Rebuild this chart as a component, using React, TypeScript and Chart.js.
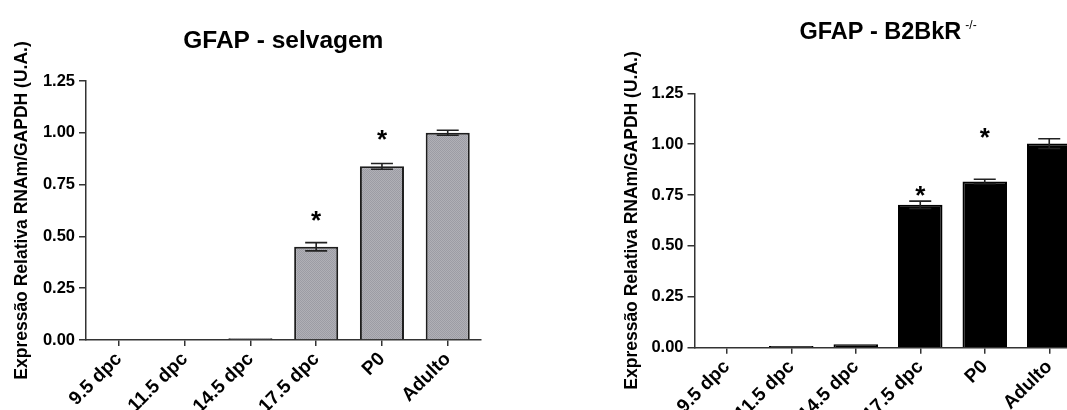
import React, { useEffect, useRef } from 'react';
import { Chart, registerables } from 'chart.js';

Chart.register(...registerables);

// ---------- data ----------
const categories = ['9.5 dpc', '11.5 dpc', '14.5 dpc', '17.5 dpc', 'P0', 'Adulto'];

const wildTypeMeans = [0, 0, 0.008, 0.45, 0.838, 1.0];
const wildTypeSem = [0, 0, 0, 0.02, 0.014, 0.012];
const wildTypeStars: (number | null)[] = [null, null, null, 0.605, 0.996, null];

const knockoutMeans = [0, 0.008, 0.017, 0.702, 0.817, 1.003];
const knockoutSem = [0, 0, 0, 0.018, 0.011, 0.024];
const knockoutStars: (number | null)[] = [null, null, null, 0.778, 1.064, null];

const yTickValues = [0, 0.25, 0.5, 0.75, 1.0, 1.25];
const yAxisTitle = 'Expressão Relativa RNAm/GAPDH (U.A.)';
const wildTypeTitle = 'GFAP - selvagem';
const knockoutTitle = 'GFAP - B2BkR';
const knockoutTitleSup = '-/-';

const FONT = '"Liberation Sans", Arial, Helvetica, sans-serif';

type Spec = {
  left: number;
  title: string;
  sup?: string;
  titleY: number;
  titleSize: number;
  means: number[];
  sem: number[];
  stars: (number | null)[];
  yAxisWidth: number;
  padTop: number;
  padRight: number;
  xAxisHeight: number;
  barPct: number;
  fill: 'stipple' | string;
  border: string;
  errColor: string;
};

function makeStipple(): CanvasPattern | string {
  const c = document.createElement('canvas');
  c.width = 2;
  c.height = 2;
  const g = c.getContext('2d');
  if (!g) return '#a6a6ad';
  g.fillStyle = '#b0b0b6';
  g.fillRect(0, 0, 2, 2);
  g.fillStyle = '#9c9ca4';
  g.fillRect(0, 0, 1, 1);
  g.fillRect(1, 1, 1, 1);
  return g.createPattern(c, 'repeat') ?? '#a6a6ad';
}

function makeAnnotations(spec: Spec) {
  return {
    id: 'gfapAnnotations',
    afterDatasetsDraw(chart: any) {
      const { ctx } = chart;
      const y = chart.scales.y;
      const meta = chart.getDatasetMeta(0);
      ctx.save();
      ctx.strokeStyle = spec.errColor;
      ctx.lineWidth = 1.6;
      meta.data.forEach((bar: any, i: number) => {
        const m = spec.means[i];
        const e = spec.sem[i];
        if (e > 0) {
          const yt = y.getPixelForValue(m + e);
          const yb = y.getPixelForValue(m - e);
          const half = 11;
          ctx.beginPath();
          ctx.moveTo(bar.x, yt);
          ctx.lineTo(bar.x, yb);
          ctx.moveTo(bar.x - half, yt);
          ctx.lineTo(bar.x + half, yt);
          ctx.moveTo(bar.x - half, yb);
          ctx.lineTo(bar.x + half, yb);
          ctx.stroke();
        }
        const s = spec.stars[i];
        if (s != null) {
          const size = 26;
          ctx.fillStyle = '#000';
          ctx.font = `bold ${size}px ${FONT}`;
          ctx.textAlign = 'center';
          ctx.textBaseline = 'alphabetic';
          ctx.fillText('*', bar.x, y.getPixelForValue(s) + size * 0.57);
        }
      });
      ctx.restore();
    },
    afterDraw(chart: any) {
      const { ctx, chartArea } = chart;
      ctx.save();
      ctx.fillStyle = '#000';
      ctx.textBaseline = 'middle';
      ctx.textAlign = 'left';
      ctx.font = `bold ${spec.titleSize}px ${FONT}`;
      const w1 = ctx.measureText(spec.title).width;
      let w2 = 0;
      const supFont = `12px ${FONT}`;
      if (spec.sup) {
        ctx.font = supFont;
        w2 = ctx.measureText(spec.sup).width + 4;
      }
      const cx = (chartArea.left + chartArea.right) / 2;
      const x0 = cx - (w1 + w2) / 2;
      ctx.font = `bold ${spec.titleSize}px ${FONT}`;
      ctx.fillText(spec.title, x0, spec.titleY);
      if (spec.sup) {
        ctx.font = supFont;
        ctx.fillText(spec.sup, x0 + w1 + 4, spec.titleY - 7);
      }
      ctx.restore();
    },
  };
}

function GfapChart({ spec }: { spec: Spec }) {
  const ref = useRef<HTMLCanvasElement>(null);
  useEffect(() => {
    if (!ref.current) return;
    const fill = spec.fill === 'stipple' ? makeStipple() : spec.fill;
    const chart = new Chart(ref.current, {
      type: 'bar',
      data: {
        labels: categories,
        datasets: [
          {
            data: spec.means,
            backgroundColor: fill as any,
            borderColor: spec.border,
            borderWidth: 2,
            barPercentage: spec.barPct,
            categoryPercentage: 1,
          },
        ],
      },
      options: {
        responsive: false,
        animation: false,
        devicePixelRatio: 1,
        layout: { padding: { left: 0, top: spec.padTop, right: spec.padRight, bottom: 0 } },
        plugins: { legend: { display: false }, title: { display: false }, tooltip: { enabled: false } },
        scales: {
          x: {
            type: 'category',
            offset: true,
            grid: {
              offset: false,
              drawOnChartArea: false,
              drawTicks: true,
              tickLength: 6,
              color: '#333',
              lineWidth: 1.5,
            },
            border: { display: true, color: '#333', width: 1.5 },
            ticks: {
              autoSkip: false,
              minRotation: 45,
              maxRotation: 45,
              padding: 2,
              color: '#000',
              font: { family: FONT, size: 19, weight: 'bold' },
            },
            afterFit: (s: any) => {
              s.height = spec.xAxisHeight;
            },
          },
          y: {
            type: 'linear',
            min: 0,
            max: 1.25,
            afterBuildTicks: (s: any) => {
              s.ticks = yTickValues.map((v) => ({ value: v }));
            },
            grid: {
              drawOnChartArea: false,
              drawTicks: true,
              tickLength: 7,
              color: '#333',
              lineWidth: 1.5,
            },
            border: { display: true, color: '#333', width: 1.5 },
            ticks: {
              padding: 4,
              color: '#000',
              font: { family: FONT, size: 16.5, weight: 'bold' },
              callback: (v: any) => Number(v).toFixed(2),
            },
            title: {
              display: true,
              text: yAxisTitle,
              color: '#000',
              font: { family: FONT, size: 17.5, weight: 'bold', lineHeight: 1.2 },
              padding: { top: 11.5, bottom: 0 },
            },
            afterFit: (s: any) => {
              s.width = spec.yAxisWidth;
            },
          },
        },
      },
      plugins: [makeAnnotations(spec)],
    } as any);
    return () => chart.destroy();
  }, [spec]);
  return (
    <canvas
      ref={ref}
      width={540}
      height={410}
      style={{ position: 'absolute', left: spec.left, top: 0, width: 540, height: 410 }}
    />
  );
}

const leftSpec: Spec = {
  left: 0,
  title: wildTypeTitle,
  titleY: 41.5,
  titleSize: 24.5,
  means: wildTypeMeans,
  sem: wildTypeSem,
  stars: wildTypeStars,
  yAxisWidth: 86,
  padTop: 81,
  padRight: 59.4,
  xAxisHeight: 70,
  barPct: 0.67,
  fill: 'stipple',
  border: '#1e1e1e',
  errColor: '#222',
};

const rightSpec: Spec = {
  left: 610,
  title: knockoutTitle,
  sup: knockoutTitleSup,
  titleY: 33,
  titleSize: 23.5,
  means: knockoutMeans,
  sem: knockoutSem,
  stars: knockoutStars,
  yAxisWidth: 84.5,
  padTop: 93.3,
  padRight: 68.5,
  xAxisHeight: 62.3,
  barPct: 0.69,
  fill: '#000',
  border: '#000',
  errColor: '#222',
};

export default function App() {
  return (
    <div
      style={{
        position: 'absolute',
        left: 0,
        top: 0,
        width: 1067,
        height: 410,
        overflow: 'hidden',
        background: '#fff',
      }}
    >
      <GfapChart spec={leftSpec} />
      <GfapChart spec={rightSpec} />
    </div>
  );
}
